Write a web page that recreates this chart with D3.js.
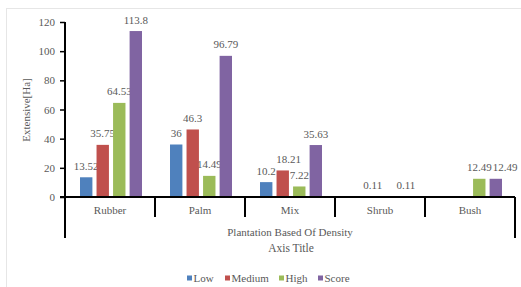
<!DOCTYPE html>
<html><head><meta charset="utf-8">
<script src="https://cdn.jsdelivr.net/npm/d3@7/dist/d3.min.js"></script>
<style>body{margin:0;background:#fff}svg{display:block}</style>
</head><body>
<script>
const categories = ["Rubber","Palm","Mix","Shrub","Bush"];
const seriesNames = ["Low","Medium","High","Score"];
const low    = [13.52, 36, 10.2, null, null];
const medium = [35.75, 46.3, 18.21, 0.11, null];
const high   = [64.53, 14.49, 7.22, null, 12.49];
const score  = [113.8, 96.79, 35.63, 0.11, 12.49];
const labels = [["13.52","36","10.2",null,null],["35.75","46.3","18.21","0.11",null],["64.53","14.49","7.22",null,"12.49"],["113.8","96.79","35.63","0.11","12.49"]];
const yTicks = [0,20,40,60,80,100,120];
const colors = ["#4F81BD","#C0504D","#9BBB59","#8064A2"];
const seriesValues = [low, medium, high, score];
const FONT = "'Liberation Serif', 'Times New Roman', 'DejaVu Serif'";

const W = 521, H = 287;
const svg = d3.select("body").append("svg").attr("width", W).attr("height", H)
  .style("font-family", FONT);
svg.append("rect").attr("x",6.5).attr("y",8.5).attr("width",W).attr("height",H).attr("fill","none").attr("stroke","#e6e6e6");

const y = d3.scaleLinear().domain([0,120]).range([197,22]);
const x0 = d3.scaleBand().domain(categories).range([65,515]);
const x1 = d3.scaleBand().domain(seriesNames).range([15, x0.bandwidth()-13]).paddingInner(0.25);

function addText(sel){ return sel.append("text").style("font-family", FONT).attr("fill","#595959"); }

// bars and labels
categories.forEach((c, ci) => {
  let prevRight = -Infinity;
  seriesNames.forEach((s, si) => {
    const v = seriesValues[si][ci];
    if (v === null) return;
    const bx = x0(c) + x1(s);
    svg.append("rect").attr("x", bx).attr("y", y(v)).attr("width", x1.bandwidth())
      .attr("height", y(0) - y(v)).attr("fill", colors[si]);
    const t = addText(svg).attr("x", bx + x1.bandwidth()/2).attr("y", y(v) - 7.5)
      .attr("text-anchor","middle").attr("font-size", 11).text(labels[si][ci]);
    const bb = t.node().getBBox();
    if (bb.x < prevRight + 0.5 && Math.abs(y(v) - y(seriesValues[si-1] ? (seriesValues[si-1][ci] ?? 0) : 0)) < 12) {
      t.attr("x", +t.attr("x") + (prevRight + 0.5 - bb.x));
    }
    const nb = t.node().getBBox();
    prevRight = nb.x + nb.width;
  });
});

// y axis
const yAxis = d3.axisLeft(y).tickValues(yTicks).tickSize(5).tickPadding(5);
const gy = svg.append("g").attr("transform","translate(65,0)").call(yAxis).attr("font-family", null);
gy.select(".domain").remove();
gy.selectAll("line").attr("stroke","#000").attr("stroke-width",1.5);
gy.selectAll("text").attr("font-size",11).style("font-family",FONT).attr("fill","#595959");
svg.append("line").attr("x1",65).attr("x2",65).attr("y1",22).attr("y2",238).attr("stroke","#000").attr("stroke-width",2);

// x axis
svg.append("line").attr("x1",60).attr("x2",515).attr("y1",197).attr("y2",197).attr("stroke","#000").attr("stroke-width",2);
const xAxis = d3.axisBottom(x0).tickSize(0).tickPadding(9);
const gx = svg.append("g").attr("transform","translate(0,197)").call(xAxis).attr("font-family", null);
gx.select(".domain").remove();
gx.selectAll("text").attr("font-size",11).style("font-family",FONT).attr("fill","#595959");
categories.slice(1).forEach(c => {
  svg.append("line").attr("x1",x0(c)).attr("x2",x0(c)).attr("y1",197).attr("y2",217).attr("stroke","#000").attr("stroke-width",2);
});
svg.append("line").attr("x1",515).attr("x2",515).attr("y1",197).attr("y2",238).attr("stroke","#000").attr("stroke-width",2);

addText(svg).attr("x",290).attr("y",235.5).attr("text-anchor","middle").attr("font-size",11).text("Plantation Based Of Density");
addText(svg).attr("x",291).attr("y",252).attr("text-anchor","middle").attr("font-size",11.5).text("Axis Title");
addText(svg).attr("transform","translate(30,110) rotate(-90)").attr("text-anchor","middle").attr("font-size",11).text("Extensive[Ha]");

// legend
const legX = [187, 225, 279, 318];
seriesNames.forEach((s, i) => {
  svg.append("rect").attr("x", legX[i]).attr("y", 275.5).attr("width",5).attr("height",5).attr("fill",colors[i]);
  addText(svg).attr("x", legX[i]+6.5).attr("y", 281.5).attr("font-size",11).text(s);
});
</script>
</body></html>
